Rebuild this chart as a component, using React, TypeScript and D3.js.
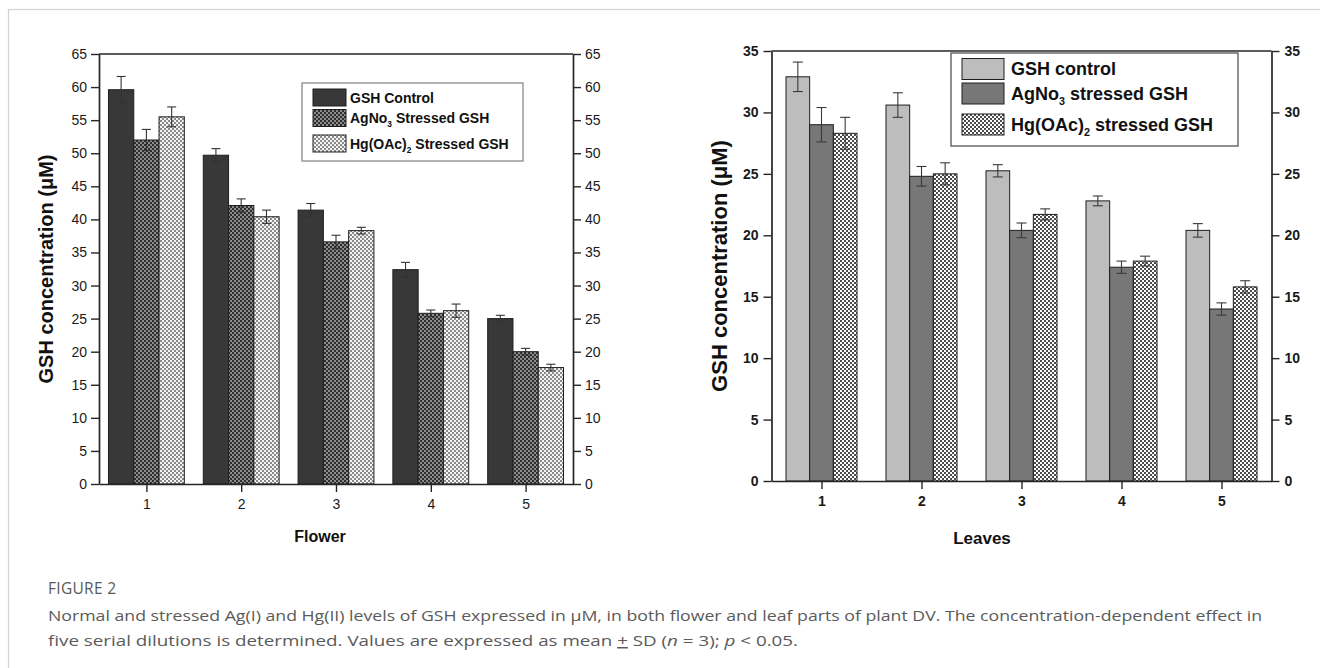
import React, { useEffect, useRef } from 'react'
import * as d3 from 'd3'

// dilution steps on the x axis
const categories = [1, 2, 3, 4, 5]

// Flower panel (mean, SD)
const flowerControl = [59.6, 49.7, 41.4, 32.4, 25.0]
const flowerControlSd = [2.0, 1.0, 1.0, 1.1, 0.5]
const flowerAg = [52.0, 42.1, 36.6, 25.8, 20.0]
const flowerAgSd = [1.6, 1.0, 1.0, 0.5, 0.5]
const flowerHg = [55.5, 40.4, 38.3, 26.2, 17.6]
const flowerHgSd = [1.5, 1.0, 0.5, 1.0, 0.5]
const flowerTicks = [0, 5, 10, 15, 20, 25, 30, 35, 40, 45, 50, 55, 60, 65]
const flowerLegend = [['GSH Control', '', ''], ['AgNo', '3', ' Stressed GSH'], ['Hg(OAc)', '2', ' Stressed GSH']]

// Leaves panel (mean, SD)
const leafControl = [32.9, 30.6, 25.25, 22.8, 20.4]
const leafControlSd = [1.2, 1.0, 0.5, 0.4, 0.55]
const leafAg = [29.0, 24.8, 20.4, 17.4, 14.0]
const leafAgSd = [1.4, 0.8, 0.6, 0.5, 0.5]
const leafHg = [28.3, 25.0, 21.7, 17.9, 15.8]
const leafHgSd = [1.3, 0.9, 0.45, 0.4, 0.5]
const leafTicks = [0, 5, 10, 15, 20, 25, 30, 35]
const leafLegend = [['GSH control', '', ''], ['AgNo', '3', ' stressed GSH'], ['Hg(OAc)', '2', ' stressed GSH']]

const FONT = "'Liberation Sans', Arial, Helvetica, sans-serif"
const INK = '#262626'

function drawPanel(root, p) {
  const g = root.append('g')
  const x = d3.scaleLinear().domain([0.5, 5.5]).range([p.left, p.right])
  const y = d3.scaleLinear().domain([0, p.max]).range([p.bottom, p.top])
  const step = x(2) - x(1)
  const inner = d3.scaleBand().domain(['0', '1', '2'])
    .range([-step * p.group / 2, step * p.group / 2]).padding(0)

  // bars
  p.series.forEach((s, si) => {
    g.append('g').selectAll('rect').data(categories).join('rect')
      .attr('x', d => x(d) + inner(String(si)))
      .attr('y', (d, i) => y(s.values[i]))
      .attr('width', inner.bandwidth())
      .attr('height', (d, i) => y(0) - y(s.values[i]))
      .attr('fill', s.fill)
      .attr('stroke', '#1e1e1e')
      .attr('stroke-width', 1)
  })

  // error bars
  p.series.forEach((s, si) => {
    const eg = g.append('g').attr('stroke', p.errColor).attr('stroke-width', 1.1)
    categories.forEach((c, i) => {
      const cx = x(c) + inner(String(si)) + inner.bandwidth() / 2
      const hi = y(s.values[i] + s.sd[i])
      const lo = y(s.values[i] - s.sd[i])
      eg.append('line').attr('x1', cx).attr('x2', cx).attr('y1', hi).attr('y2', lo)
      eg.append('line').attr('x1', cx - p.cap).attr('x2', cx + p.cap).attr('y1', hi).attr('y2', hi)
      eg.append('line').attr('x1', cx - p.cap).attr('x2', cx + p.cap).attr('y1', lo).attr('y2', lo)
    })
  })

  const style = (sel) => {
    sel.attr('font-family', FONT).attr('font-size', p.tickSize).attr('font-weight', p.tickWeight)
    sel.select('.domain').attr('stroke', INK).attr('stroke-width', 1.7)
    sel.selectAll('.tick line').attr('stroke', INK).attr('stroke-width', 1.4)
    sel.selectAll('.tick text').attr('fill', '#1a1a1a')
  }

  g.append('g').attr('transform', `translate(${p.left},0)`)
    .call(d3.axisLeft(y).tickValues(p.ticks).tickSize(8).tickSizeOuter(0).tickPadding(p.yPad))
    .call(style)
  g.append('g').attr('transform', `translate(${p.right},0)`)
    .call(d3.axisRight(y).tickValues(p.ticks).tickSize(8).tickSizeOuter(0).tickPadding(p.yPad))
    .call(style)
  g.append('g').attr('transform', `translate(0,${p.bottom})`)
    .call(d3.axisBottom(x).tickValues(categories).tickFormat(d3.format('d')).tickSize(8).tickSizeOuter(0).tickPadding(p.xPad))
    .call(style)
  g.append('line').attr('x1', p.left).attr('x2', p.right).attr('y1', p.top).attr('y2', p.top)
    .attr('stroke', INK).attr('stroke-width', 1.7)

  // axis titles
  g.append('text').attr('x', p.xTitleX).attr('y', p.xTitleY)
    .attr('text-anchor', 'middle').attr('font-family', FONT).attr('font-weight', 'bold')
    .attr('font-size', p.xTitleSize).attr('fill', '#111').text(p.xTitle)
  const yc = (p.top + p.bottom) / 2
  g.append('text').attr('transform', `translate(${p.yTitleX},${yc}) rotate(-90)`)
    .attr('text-anchor', 'middle').attr('dominant-baseline', 'central')
    .attr('font-family', FONT).attr('font-weight', 'bold')
    .attr('font-size', p.yTitleSize).attr('fill', '#111').text('GSH concentration (\u03bcM)')

  // legend
  const L = p.legend
  g.append('rect').attr('x', L.x).attr('y', L.y).attr('width', L.w).attr('height', L.h)
    .attr('fill', '#fff').attr('stroke', L.stroke).attr('stroke-width', 1.3)
  p.series.forEach((s, si) => {
    g.append('rect').attr('x', L.sx).attr('y', L.rows[si] - L.sh / 2)
      .attr('width', L.sw).attr('height', L.sh)
      .attr('fill', s.fill).attr('stroke', '#1e1e1e').attr('stroke-width', 1)
    const parts = s.label
    const t = g.append('text').attr('x', L.tx).attr('y', L.rows[si] + L.fs * 0.36)
      .attr('font-family', FONT).attr('font-weight', 'bold').attr('font-size', L.fs).attr('fill', '#111')
    t.append('tspan').text(parts[0])
    if (parts[1]) {
      t.append('tspan').attr('font-size', L.fs * 0.6).attr('dy', L.fs * 0.3).text(parts[1])
      t.append('tspan').attr('dy', -L.fs * 0.3).text(parts[2])
    }
  })
}

export default function App() {
  const ref = useRef(null)

  useEffect(() => {
    const root = d3.select(ref.current)
    root.selectAll('*').remove()

    const defs = root.append('defs')
    const checker = (id, bg, fg, size) => {
      const pt = defs.append('pattern').attr('id', id).attr('patternUnits', 'userSpaceOnUse')
        .attr('width', size * 2).attr('height', size * 2)
      pt.append('rect').attr('width', size * 2).attr('height', size * 2).attr('fill', bg)
      pt.append('rect').attr('width', size).attr('height', size).attr('fill', fg)
      pt.append('rect').attr('x', size).attr('y', size).attr('width', size).attr('height', size).attr('fill', fg)
    }
    checker('darkCheck', '#8c8c8c', '#2e2e2e', 2)
    checker('lightCheck', '#f4f4f4', '#8a8a8a', 2)
    checker('leafCheck', '#ffffff', '#4a4a4a', 2)

    drawPanel(root, {
      left: 99, right: 573, top: 54, bottom: 484, max: 65, group: 0.8,
      ticks: flowerTicks, tickSize: 14, tickWeight: 'normal', yPad: 4, xPad: 7,
      cap: 4.5, errColor: '#333',
      xTitle: 'Flower', xTitleX: 320, xTitleY: 542, xTitleSize: 16, yTitleX: 46, yTitleSize: 20,
      series: [
        { values: flowerControl, sd: flowerControlSd, fill: '#383838', label: flowerLegend[0] },
        { values: flowerAg, sd: flowerAgSd, fill: 'url(#darkCheck)', label: flowerLegend[1] },
        { values: flowerHg, sd: flowerHgSd, fill: 'url(#lightCheck)', label: flowerLegend[2] },
      ],
      legend: { x: 302, y: 83, w: 221, h: 78, stroke: '#8a8a8a', sx: 313, sw: 33, sh: 17,
        tx: 350, fs: 14, rows: [97.5, 118, 143.5] },
    })

    drawPanel(root, {
      left: 771.5, right: 1271.5, top: 51, bottom: 481, max: 35, group: 0.71,
      ticks: leafTicks, tickSize: 14, tickWeight: 'bold', yPad: 5, xPad: 7,
      cap: 5, errColor: '#3a3a3a',
      xTitle: 'Leaves', xTitleX: 982, xTitleY: 544, xTitleSize: 17, yTitleX: 719, yTitleSize: 22,
      series: [
        { values: leafControl, sd: leafControlSd, fill: '#bdbdbd', label: leafLegend[0] },
        { values: leafAg, sd: leafAgSd, fill: '#777777', label: leafLegend[1] },
        { values: leafHg, sd: leafHgSd, fill: 'url(#leafCheck)', label: leafLegend[2] },
      ],
      legend: { x: 951, y: 53, w: 287, h: 93, stroke: '#555', sx: 962, sw: 42, sh: 21,
        tx: 1011, fs: 18, rows: [69, 93.5, 124.5] },
    })
  }, [])

  return (
    <svg width={1320} height={668}
      style={{ position: 'absolute', left: 0, top: 0, background: '#fff' }}>
      {/* card outline */}
      <rect x={8.5} y={9.5} width={1400} height={800} fill="none" stroke="#d2d2d2" strokeWidth={1.2} />
      <g ref={ref} />
      <g fontFamily="'Open Sans', 'Noto Sans', sans-serif" fill="#5a5a5a">
        <text x={48} y={594} fontSize={15.5} letterSpacing={0.3}>FIGURE 2</text>
        <text x={48} y={621} fontSize={15} textLength={1214} lengthAdjust="spacingAndGlyphs">
          Normal and stressed Ag(I) and Hg(II) levels of GSH expressed in μM, in both flower and leaf parts of plant DV. The concentration-dependent effect in
        </text>
        <text x={48} y={646} fontSize={15} textLength={750} lengthAdjust="spacingAndGlyphs">
          five serial dilutions is determined. Values are expressed as mean <tspan textDecoration="underline">+</tspan> SD (<tspan fontStyle="italic">n</tspan> = 3); <tspan fontStyle="italic">p</tspan> &lt; 0.05.
        </text>
      </g>
    </svg>
  )
}
